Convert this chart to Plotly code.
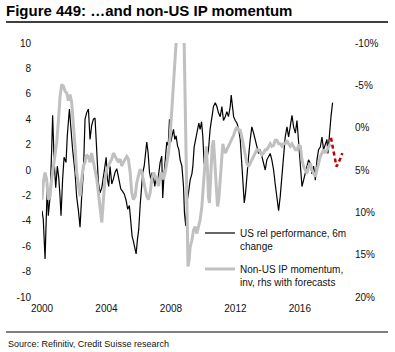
import plotly.graph_objects as go

# ---- data ----
x_ticks = [2000, 2004, 2008, 2012, 2016]
x_ticktext = ["2000", "2004", "2008", "2012", "2016"]
left_ticks = [-10, -8, -6, -4, -2, 0, 2, 4, 6, 8, 10]
left_ticktext = ["-10", "-8", "-6", "-4", "-2", "0", "2", "4", "6", "8", "10"]
right_ticks = [-10, -5, 0, 5, 10, 15, 20]
right_ticktext = ["-10%", "-5%", "0%", "5%", "10%", "15%", "20%"]

# US rel performance, 6m change (lhs)
us_year = [
    2000.00, 2000.08, 2000.19, 2000.29, 2000.33, 2000.39, 2000.50, 2000.60, 2000.66, 2000.75,
    2000.85, 2000.95, 2001.04, 2001.12, 2001.18, 2001.28, 2001.37, 2001.49, 2001.57, 2001.70,
    2001.80, 2001.90, 2002.05, 2002.15, 2002.26, 2002.36, 2002.46, 2002.57, 2002.67, 2002.77,
    2002.88, 2002.98, 2003.08, 2003.19, 2003.29, 2003.40, 2003.50, 2003.60, 2003.71, 2003.85,
    2003.98, 2004.06, 2004.14, 2004.22, 2004.33, 2004.43, 2004.53, 2004.64, 2004.76, 2004.89,
    2005.01, 2005.11, 2005.22, 2005.32, 2005.42, 2005.51, 2005.59, 2005.67, 2005.78, 2005.84,
    2005.92, 2006.00, 2006.09, 2006.17, 2006.25, 2006.34, 2006.42, 2006.50, 2006.58, 2006.67,
    2006.75, 2006.83, 2006.92, 2007.00, 2007.08, 2007.16, 2007.25, 2007.33, 2007.43, 2007.49,
    2007.58, 2007.66, 2007.74, 2007.83, 2007.91, 2007.99, 2008.07, 2008.16, 2008.24, 2008.32,
    2008.41, 2008.49, 2008.57, 2008.68, 2008.78, 2008.84, 2008.92, 2008.99, 2009.09, 2009.19,
    2009.30, 2009.36, 2009.44, 2009.57, 2009.65, 2009.73, 2009.81, 2009.90, 2009.98, 2010.06,
    2010.14, 2010.23, 2010.33, 2010.43, 2010.54, 2010.64, 2010.75, 2010.85, 2010.95, 2011.06,
    2011.16, 2011.26, 2011.37, 2011.47, 2011.57, 2011.68, 2011.74, 2011.82, 2011.89, 2011.99,
    2012.09, 2012.19, 2012.30, 2012.38, 2012.46, 2012.55, 2012.63, 2012.71, 2012.82, 2012.92,
    2013.02, 2013.13, 2013.23, 2013.33, 2013.44, 2013.54, 2013.64, 2013.75, 2013.85, 2013.95,
    2014.06, 2014.16, 2014.26, 2014.37, 2014.47, 2014.58, 2014.68, 2014.78, 2014.89, 2014.99,
    2015.09, 2015.20, 2015.30, 2015.40, 2015.51, 2015.61, 2015.72, 2015.82, 2015.92, 2016.03,
    2016.13, 2016.23, 2016.34, 2016.44, 2016.54, 2016.65, 2016.75, 2016.85, 2016.96, 2017.06,
    2017.16, 2017.27, 2017.37, 2017.47, 2017.58, 2017.68, 2017.74, 2017.83, 2017.93, 2018.03,
]
us_value = [
    -3.2, -3.9, -7.0, -3.4, -1.0, -3.6, -2.1, 1.6, 4.3, 0.8,
    -1.4, 0.3, -0.6, -2.1, -3.6, -0.7, 1.0, 0.6, 2.7, 4.8,
    2.9, 1.6, -0.2, -2.1, -3.2, -4.5, -2.1, -0.2, 4.0, 4.5,
    4.8, 2.4, 3.5, 4.0, 4.1, 1.6, -1.0, -1.8, -1.4, -0.2,
    1.0, -0.7, -1.3, 0.3, -1.1, -0.7, -0.2, 0.1, -0.7, -1.5,
    -1.7, -1.9, -2.4, -3.1, -2.8, -4.2, -5.2, -5.6, -6.3, -6.6,
    -5.5, -4.7, -2.8, -1.3, -0.2, 0.3, 1.1, 2.2, 1.4, -0.2,
    -0.7, -0.2, -0.6, -1.3, -0.5, -1.1, -0.2, 0.6, 1.1, -2.2,
    -0.2, 1.1, 2.2, 1.9, 4.0, 2.2, 2.7, 3.2, 2.4, 2.7,
    1.9, 1.6, 0.8, 0.3, -1.3, -3.4, -4.4, -2.6, -1.8, -0.8,
    -0.3, 0.3, 1.8, 2.6, 3.2, 3.7, 3.2, 3.8, 2.6, 0.5,
    0.3, 0.8, 1.6, 3.2, 4.2, 5.0, 5.3, 5.0, 4.5, 4.2,
    5.0, 3.9, 4.2, 4.6, 4.2, 5.0, 5.9, 5.0, 4.2, 3.9,
    3.7, 3.3, 2.4, 0.8, -0.8, -2.6, -1.8, -0.3, 1.1, 2.4,
    3.4, 2.9, 2.4, 1.8, 1.3, 1.6, 1.1, 0.5, 0.0, 0.8,
    1.1, 1.3, 0.8, 0.0, -1.1, -2.1, -3.2, -2.1, -0.5, 1.1,
    2.6, 3.4, 2.6, 3.4, 4.3, 3.4, 2.9, 3.9, 2.4, 0.3,
    -1.3, -0.8, -0.3, 0.3, 0.8, 0.5, -0.3, 0.3, -0.8, 0.8,
    1.6, 1.8, 2.6, 1.6, 2.1, 2.4, 1.3, 2.9, 4.2, 5.3,
]

# Non-US IP momentum, inverted (rhs, %)
ip_year = [
    2000.00, 2000.08, 2000.19, 2000.29, 2000.39, 2000.50, 2000.60, 2000.70, 2000.81, 2000.91,
    2001.01, 2001.12, 2001.22, 2001.33, 2001.43, 2001.53, 2001.64, 2001.74, 2001.84, 2001.95,
    2002.05, 2002.15, 2002.26, 2002.36, 2002.46, 2002.57, 2002.67, 2002.77, 2002.88, 2002.98,
    2003.08, 2003.19, 2003.29, 2003.40, 2003.50, 2003.60, 2003.71, 2003.81, 2003.91, 2004.02,
    2004.12, 2004.22, 2004.33, 2004.43, 2004.53, 2004.64, 2004.74, 2004.84, 2004.95, 2005.05,
    2005.16, 2005.26, 2005.36, 2005.47, 2005.57, 2005.67, 2005.78, 2005.88, 2005.98, 2006.09,
    2006.19, 2006.29, 2006.40, 2006.50, 2006.60, 2006.71, 2006.81, 2006.92, 2007.02, 2007.12,
    2007.23, 2007.33, 2007.43, 2007.54, 2007.64, 2007.74, 2007.85, 2007.95, 2008.05, 2008.16,
    2008.26, 2008.36, 2008.59, 2008.82, 2008.88, 2008.94, 2009.00, 2009.06, 2009.13, 2009.19,
    2009.30, 2009.40, 2009.50, 2009.61, 2009.71, 2009.81, 2009.92, 2010.02, 2010.12, 2010.19,
    2010.27, 2010.33, 2010.39, 2010.48, 2010.56, 2010.64, 2010.73, 2010.81, 2010.89, 2010.97,
    2011.06, 2011.14, 2011.22, 2011.30, 2011.39, 2011.47, 2011.57, 2011.68, 2011.78, 2011.89,
    2011.99, 2012.09, 2012.19, 2012.30, 2012.40, 2012.50, 2012.61, 2012.71, 2012.82, 2012.92,
    2013.02, 2013.13, 2013.23, 2013.33, 2013.44, 2013.54, 2013.64, 2013.75, 2013.85, 2013.95,
    2014.06, 2014.16, 2014.26, 2014.37, 2014.47, 2014.58, 2014.68, 2014.78, 2014.89, 2014.99,
    2015.09, 2015.20, 2015.30, 2015.40, 2015.51, 2015.61, 2015.72, 2015.82, 2015.92, 2016.03,
    2016.13, 2016.23, 2016.34, 2016.44, 2016.54, 2016.65, 2016.75, 2016.85, 2016.96, 2017.06,
    2017.16, 2017.27, 2017.37, 2017.47, 2017.58, 2017.68, 2017.79, 2017.89,
]
ip_value = [
    8.5, 6.5, 5.3, 6.1, 8.5, 8.1, 6.1, 4.5, 3.4, 1.8,
    -0.6, -3.7, -5.1, -4.9, -4.3, -4.1, -3.2, -3.9, -3.0, -0.6,
    2.2, 5.3, 6.9, 8.1, 6.1, 4.5, 4.1, 3.2, 3.4, 4.1,
    3.0, 4.1, 4.9, 6.1, 7.7, 9.7, 11.2, 8.5, 6.1, 4.9,
    4.5, 4.1, 3.7, 3.0, 3.4, 3.7, 4.1, 3.7, 4.5, 4.1,
    3.7, 3.4, 3.7, 5.3, 7.7, 8.5, 8.1, 6.5, 5.7, 4.9,
    5.3, 6.1, 7.3, 8.1, 8.5, 7.7, 6.1, 5.3, 5.7, 6.1,
    6.9, 5.7, 5.3, 6.1, 5.3, 4.1, 3.0, 1.0, -1.8, -4.5,
    -7.3, -10.0, -18.0, -10.0, -2.6, 5.3, 13.2, 16.4, 15.6, 14.1,
    13.3, 12.1, 11.7, 12.5, 11.7, 10.9, 9.3, 6.2, 3.4, 2.2,
    5.0, 8.2, 8.9, 5.4, 2.2, 1.5, 4.6, 7.4, 9.3, 8.5,
    6.2, 3.4, 1.9, 2.6, 3.0, 2.6, 2.2, 1.9, 1.5, 0.9,
    0.3, -0.1, 0.3, 0.3, 1.1, 2.2, 3.4, 4.2, 4.6, 4.2,
    3.8, 3.4, 3.0, 2.6, 2.6, 3.0, 3.2, 3.0, 2.6, 2.6,
    2.2, 1.9, 2.2, 2.1, 1.5, 1.5, 1.9, 1.9, 2.2, 1.9,
    1.9, 1.5, 1.9, 2.2, 1.9, 2.2, 2.6, 2.6, 2.1, 2.2,
    3.8, 4.6, 5.0, 5.4, 4.6, 4.2, 5.0, 5.4, 5.8, 5.0,
    4.2, 3.4, 3.0, 2.6, 3.0, 2.6, 2.2, 1.9,
]

# forecast of non-US IP momentum (rhs, %)
fc_year = [2017.93, 2018.10, 2018.27, 2018.48, 2018.63]
fc_value = [1.2, 2.8, 4.6, 3.8, 3.0]

FONT = "Liberation Sans, Arial, sans-serif"
TXT = "#111111"

fig = go.Figure()
fig.add_trace(go.Scatter(
    x=ip_year, y=ip_value, yaxis="y2", mode="lines",
    name="Non-US IP momentum,<br>inv, rhs with forecasts",
    line=dict(color="#c0c0c0", width=3), legendgroup="b", legendrank=2,
))
fig.add_trace(go.Scatter(
    x=us_year, y=us_value, mode="lines",
    name="US rel performance, 6m<br>change",
    line=dict(color="#000000", width=1.2), legendgroup="a", legendrank=1,
))
fig.add_trace(go.Scatter(
    x=fc_year, y=fc_value, yaxis="y2", mode="lines", showlegend=False,
    line=dict(color="#c00000", width=2.5, dash="4px,3px"),
))

# plot area: x 42..345 px, y 43..297 px
PL, PR, PT, PB = 42, 345, 43, 297
W, H = 395, 352
pw, ph = PR - PL, PB - PT


def px(x):
    return (x - PL) / pw


def py(y):
    return (PB - y) / ph


fig.update_layout(
    width=W, height=H, autosize=False,
    margin=dict(l=PL, r=W - PR, t=PT, b=H - PB, pad=0),
    paper_bgcolor="white", plot_bgcolor="white",
    font=dict(family=FONT, size=10, color=TXT),
    title=dict(
        text="<b>Figure 449: …and non-US IP momentum</b>",
        x=6 / W, xanchor="left", xref="container",
        y=1 - 5 / H, yanchor="top", yref="container",
        font=dict(family=FONT, size=15, color="#000000"),
    ),
    xaxis=dict(
        range=[2000, 2018.8], tickvals=x_ticks, ticktext=x_ticktext,
        showgrid=False, zeroline=False, showline=False, ticks="",
        ticklabelstandoff=4, tickfont=dict(size=10, color=TXT),
    ),
    xaxis2=dict(
        overlaying="x", anchor="free", position=0.5, side="bottom",
        range=[2000, 2018.8], tickvals=x_ticks,
        showticklabels=False, showgrid=False, zeroline=False,
        showline=True, linecolor="#808080", linewidth=1,
        ticks="outside", ticklen=3, tickcolor="#808080", tickwidth=1,
    ),
    yaxis=dict(
        range=[-10, 10], tickvals=left_ticks, ticktext=left_ticktext,
        showgrid=False, zeroline=False, showline=False, ticks="",
        ticklabelstandoff=10, tickfont=dict(size=10, color=TXT),
    ),
    yaxis2=dict(
        overlaying="y", side="right", anchor="x",
        range=[20, -10], tickvals=right_ticks, ticktext=right_ticktext,
        showgrid=False, zeroline=False, showline=False, ticks="",
        ticklabelstandoff=9, tickfont=dict(size=10, color=TXT),
    ),
    legend=dict(
        x=px(200), y=py(220), xanchor="left", yanchor="top",
        bgcolor="rgba(0,0,0,0)", borderwidth=0,
        font=dict(family=FONT, size=10, color=TXT),
        valign="top", traceorder="grouped", tracegroupgap=7,
    ),
    showlegend=True,
    shapes=[
        dict(type="line", xref="paper", yref="paper",
             x0=px(6), x1=px(388), y0=py(22), y1=py(22),
             line=dict(color="#000000", width=1.5)),
        dict(type="line", xref="paper", yref="paper",
             x0=px(6), x1=px(388), y0=py(332), y1=py(332),
             line=dict(color="#000000", width=1.2)),
    ],
    annotations=[
        dict(text="Source: Refinitiv, Credit Suisse research",
             xref="paper", yref="paper", x=px(6), y=py(344),
             xanchor="left", yanchor="middle", showarrow=False,
             font=dict(family=FONT, size=9, color=TXT)),
    ],
)

fig.write_html("out.html")
